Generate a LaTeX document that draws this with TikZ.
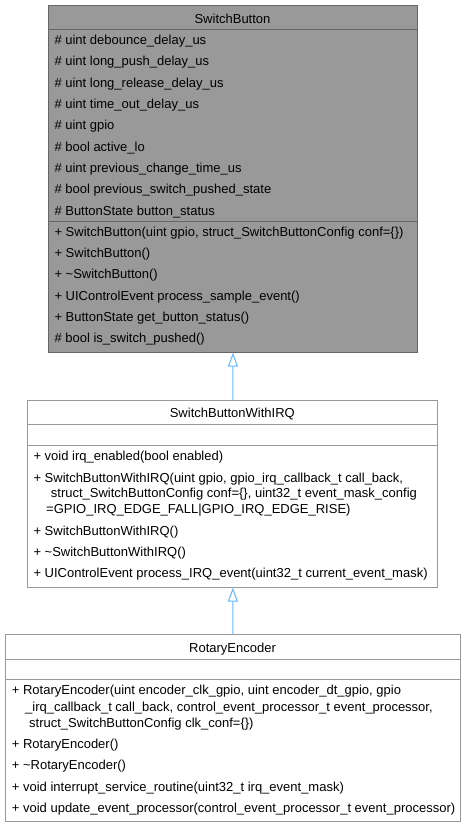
\documentclass[tikz,border=0pt]{standalone}
\usepackage{fontspec}
\setmainfont{Liberation Sans}
\usetikzlibrary{arrows.meta}
\definecolor{curfill}{HTML}{999999}
\definecolor{curdraw}{HTML}{666666}
\definecolor{boxdraw}{HTML}{999999}
\definecolor{edgeblue}{HTML}{63B8FF}
\tikzset{
  clsbox/.style={draw=boxdraw, fill=white, line width=1pt, inner sep=0pt, anchor=north west},
  curbox/.style={draw=curdraw, fill=curfill, line width=1pt, inner sep=0pt, anchor=north west},
  sepline/.style={line width=1pt},
  txt/.style={inner sep=0pt, anchor=base west, font=\fontsize{13}{15}\selectfont},
  ttl/.style={inner sep=0pt, anchor=base, font=\fontsize{13}{15}\selectfont},
  inh/.style={draw=edgeblue, line width=1pt, -{Triangle[open, length=14pt, width=10pt, fill=white]}}
}
\begin{document}
\begin{tikzpicture}[x=1pt,y=-1pt]
\useasboundingbox (0,0) rectangle (465,827);
% ---------- SwitchButton ----------
\node[curbox, minimum width=368.4pt, minimum height=346.7pt] (sb) at (48.3,5) {};
\draw[sepline, curdraw] (48.3,29.3) -- (416.7,29.3);
\draw[sepline, curdraw] (48.3,221.7) -- (416.7,221.7);
\node[ttl] (sbt) at (232.5,23.3) {SwitchButton};
\node[txt] (a1) at (54.3,44.3) {\# uint debounce\_delay\_us};
\node[txt] (a2) at (54.3,65.6) {\# uint long\_push\_delay\_us};
\node[txt] (a3) at (54.3,87) {\# uint long\_release\_delay\_us};
\node[txt] (a4) at (54.3,108.3) {\# uint time\_out\_delay\_us};
\node[txt] (a5) at (54.3,129.6) {\# uint gpio};
\node[txt] (a6) at (54.3,151) {\# bool active\_lo};
\node[txt] (a7) at (54.3,172.3) {\# uint previous\_change\_time\_us};
\node[txt] (a8) at (54.3,193.6) {\# bool previous\_switch\_pushed\_state};
\node[txt] (a9) at (54.3,215) {\# ButtonState button\_status};
\node[txt] (m1) at (54.3,236) {+ SwitchButton(uint gpio, struct\_SwitchButtonConfig conf=\{\})};
\node[txt] (m2) at (54.3,257.3) {+ SwitchButton()};
\node[txt] (m3) at (54.3,278.6) {+ \textasciitilde SwitchButton()};
\node[txt] (m4) at (54.3,300) {+ UIControlEvent process\_sample\_event()};
\node[txt] (m5) at (54.3,321.3) {+ ButtonState get\_button\_status()};
\node[txt] (m6) at (54.3,342.6) {\# bool is\_switch\_pushed()};
% ---------- SwitchButtonWithIRQ ----------
\node[clsbox, minimum width=410pt, minimum height=186.7pt] (irq) at (27.3,400) {};
\draw[sepline, boxdraw] (27.3,424) -- (437.3,424);
\draw[sepline, boxdraw] (27.3,445.7) -- (437.3,445.7);
\node[ttl] (irqt) at (232.3,417.6) {SwitchButtonWithIRQ};
\node[txt] (i1) at (33.3,460.3) {+ void irq\_enabled(bool enabled)};
\node[txt] (i2a) at (33.3,482) {+ SwitchButtonWithIRQ(uint gpio, gpio\_irq\_callback\_t call\_back,};
\node[txt] (i2b) at (50.7,497.6) {struct\_SwitchButtonConfig conf=\{\}, uint32\_t event\_mask\_config};
\node[txt] (i2c) at (46,513.6) {=GPIO\_IRQ\_EDGE\_FALL|GPIO\_IRQ\_EDGE\_RISE)};
\node[txt] (i3) at (33.3,535.3) {+ SwitchButtonWithIRQ()};
\node[txt] (i4) at (33.3,556) {+ \textasciitilde SwitchButtonWithIRQ()};
\node[txt] (i5) at (33.3,577) {+ UIControlEvent process\_IRQ\_event(uint32\_t current\_event\_mask)};
% ---------- RotaryEncoder ----------
\node[clsbox, minimum width=455pt, minimum height=186.4pt] (re) at (5,634.3) {};
\draw[sepline, boxdraw] (5,659) -- (460,659);
\draw[sepline, boxdraw] (5,679.3) -- (460,679.3);
\node[ttl] (ret) at (232.5,652.6) {RotaryEncoder};
\node[txt] (r1a) at (11.7,694.3) {+ RotaryEncoder(uint encoder\_clk\_gpio, uint encoder\_dt\_gpio, gpio};
\node[txt] (r1b) at (25,711) {\_irq\_callback\_t call\_back, control\_event\_processor\_t event\_processor,};
\node[txt] (r1c) at (29,727.6) {struct\_SwitchButtonConfig clk\_conf=\{\})};
\node[txt] (r2) at (11.7,748.3) {+ RotaryEncoder()};
\node[txt] (r3) at (11.7,769.3) {+ \textasciitilde RotaryEncoder()};
\node[txt] (r4) at (11.7,791) {+ void interrupt\_service\_routine(uint32\_t irq\_event\_mask)};
\node[txt] (r5) at (11.7,812) {+ void update\_event\_processor(control\_event\_processor\_t event\_processor)};
% ---------- inheritance ----------
\draw[inh] (irq.north) -- (sb.south);
\draw[inh] (re.north) -- (irq.south);
\end{tikzpicture}
\end{document}
